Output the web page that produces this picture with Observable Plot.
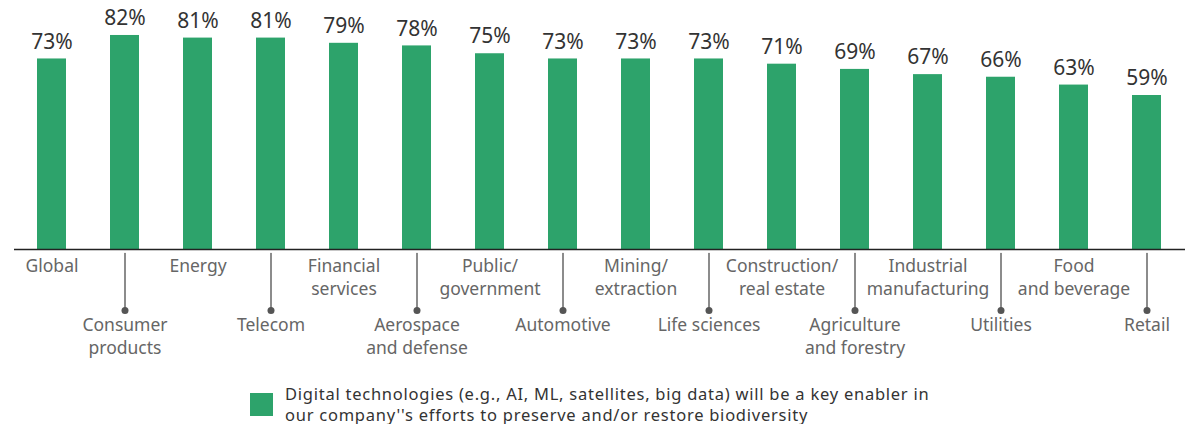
<!DOCTYPE html>
<html>
<head>
<meta charset="utf-8">
<script src="https://cdn.jsdelivr.net/npm/d3@7"></script>
<script src="https://cdn.jsdelivr.net/npm/@observablehq/plot@0.6"></script>
<style>
  body { margin: 0; background: #fff; font-family: "Noto Sans", sans-serif; }
  #chart svg { display: block; }
  .legend { display: flex; align-items: flex-start; margin-left: 250px; margin-top: 8px; }
  .legend .sw { width: 23px; height: 23px; background: #2da36b; margin-top: 10px; flex: none; }
  .legend .lt { margin-left: 12px; font-size: 16.5px; letter-spacing: 0.75px; line-height: 21px; color: #333; white-space: nowrap; }
</style>
</head>
<body>
<div id="chart"></div>
<div class="legend"><div class="sw"></div><div class="lt">Digital technologies (e.g., AI, ML, satellites, big data) will be a key enabler in<br>our company''s efforts to preserve and/or restore biodiversity</div></div>
<script>
const categories = ["Global", "Consumer\nproducts", "Energy", "Telecom", "Financial\nservices", "Aerospace\nand defense", "Public/\ngovernment", "Automotive", "Mining/\nextraction", "Life sciences", "Construction/\nreal estate", "Agriculture\nand forestry", "Industrial\nmanufacturing", "Utilities", "Food\nand beverage", "Retail"];
const values = [73, 82, 81, 81, 79, 78, 75, 73, 73, 73, 71, 69, 67, 66, 63, 59];
const seriesName = "Digital technologies (e.g., AI, ML, satellites, big data) will be a key enabler in our company''s efforts to preserve and/or restore biodiversity";

const data = categories.map((c, i) => ({category: c, value: values[i], tier: i % 2}));
const upper = data.filter(d => d.tier === 0);
const lower = data.filter(d => d.tier === 1);
const green = "#2da36b";

const leader = {draw(context, l) { context.moveTo(0, 0); context.lineTo(0, -l); }};

const chart = Plot.plot({
  width: 1191,
  height: 375,
  marginTop: 0,
  marginLeft: 14,
  marginRight: 6,
  marginBottom: 126,
  style: {fontFamily: "Noto Sans, sans-serif", background: "#fff"},
  x: {domain: categories, paddingInner: 0.6, paddingOuter: 0.3, axis: null},
  y: {domain: [0, 95.4], axis: null},
  marks: [
    Plot.barY(data, {x: "category", y: "value", fill: green}),
    Plot.text(data, {x: "category", y: "value", text: d => d.value + "%", dy: -17, fontSize: 21, fill: "#333"}),
    Plot.ruleY([0], {stroke: "#222", strokeWidth: 1.5}),
    Plot.vector(lower, {x: "category", frameAnchor: "bottom", length: 57, rotate: 180, anchor: "start", shape: leader, stroke: "#666", strokeWidth: 1.5, dy: 4}),
    Plot.dot(lower, {x: "category", frameAnchor: "bottom", dy: 61, r: 3.5, fill: "#555"}),
    Plot.text(upper, {x: "category", frameAnchor: "bottom", text: "category", dy: 7, lineAnchor: "top", lineHeight: 1.27, fontSize: 17.5, fill: "#666"}),
    Plot.text(lower, {x: "category", frameAnchor: "bottom", text: "category", dy: 66, lineAnchor: "top", lineHeight: 1.27, fontSize: 17.5, fill: "#666"})
  ]
});
document.getElementById("chart").append(chart);
</script>
</body>
</html>
